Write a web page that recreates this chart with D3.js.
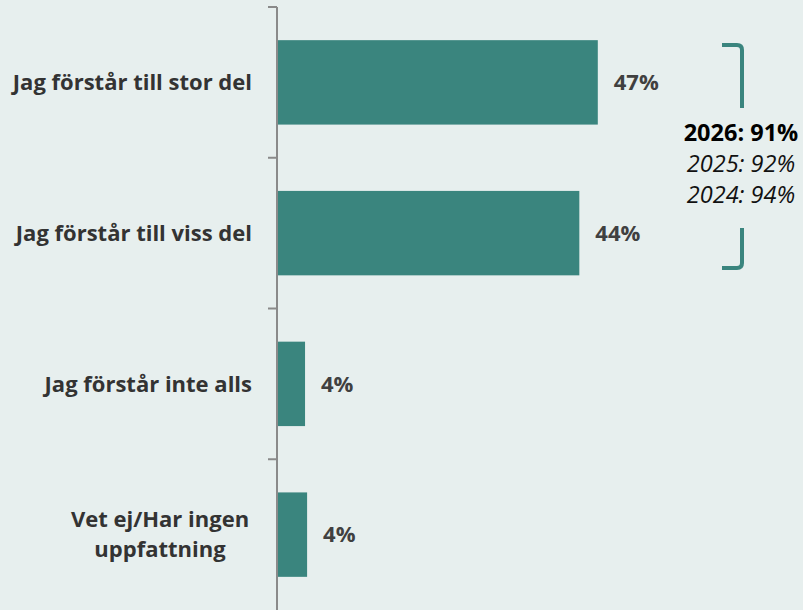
<!DOCTYPE html>
<html><head><meta charset="utf-8">
<script src="https://cdn.jsdelivr.net/npm/d3@7"></script>
<style>
html,body{margin:0;padding:0;background:#e7efee;}
svg{display:block;}
text{font-family:"Open Sans",Lato,sans-serif;}
</style></head>
<body>
<svg id="chart" width="803" height="610"></svg>
<script>
const categories = ["Jag förstår till stor del","Jag förstår till viss del","Jag förstår inte alls","Vet ej/Har ingen uppfattning"];
const categoryLines = [["Jag förstår till stor del"],["Jag förstår till viss del"],["Jag förstår inte alls"],["Vet ej/Har ingen","uppfattning"]];
const values = [46.9, 44.2, 4.1, 4.4];
const valueLabels = ["47%","44%","4%","4%"];
const summaryLines = ["2026: 91%","2025: 92%","2024: 94%"];

const svg = d3.select("#chart");
const W = 803, H = 610;
const x0 = 277;
const x = d3.scaleLinear().domain([0, 100]).range([x0, x0 + 684]);
const y = d3.scaleBand().domain(categories).range([7, 610]).paddingInner(0.44).paddingOuter(0.22);

svg.append("rect").attr("width", W).attr("height", H).attr("fill", "#e7efee");

svg.selectAll("rect.bar").data(values).enter().append("rect")
  .attr("class","bar")
  .attr("x", x(0))
  .attr("y", (d,i) => y(categories[i]))
  .attr("width", d => x(d) - x(0))
  .attr("height", y.bandwidth())
  .attr("fill", "#3a857e");

const bounds = [7, ...categories.map((c,i)=> i<categories.length-1 ? (y(categories[i]) + y.bandwidth() + y(categories[i+1]))/2 : 610)];
const axisG = svg.append("g");
axisG.append("line").attr("x1", x0).attr("x2", x0).attr("y1", 7).attr("y2", 610)
  .attr("stroke", "#8a8a8a").attr("stroke-width", 2);
axisG.selectAll("line.tick").data(bounds.slice(0,4)).enter().append("line")
  .attr("class","tick")
  .attr("x1", x0 - 9).attr("x2", x0).attr("y1", d=>d).attr("y2", d=>d)
  .attr("stroke", "#8a8a8a").attr("stroke-width", 2);

const fs = 22;
categories.forEach((c,i) => {
  const lines = categoryLines[i];
  const cy = y(c) + y.bandwidth()/2;
  const lh = 30;
  const t = svg.append("text").attr("text-anchor", lines.length>1 ? "middle" : "end")
    .attr("font-size", fs).attr("font-weight", 700).attr("fill", "#333333");
  lines.forEach((l,j) => {
    t.append("tspan")
      .attr("x", lines.length>1 ? 160 : 252)
      .attr("y", cy + (j - (lines.length-1)/2)*lh)
      .attr("dy", "0.35em")
      .text(l);
  });
});

svg.selectAll("text.val").data(values).enter().append("text")
  .attr("class","val")
  .attr("x", d => x(d) + 16)
  .attr("y", (d,i) => y(categories[i]) + y.bandwidth()/2)
  .attr("dy","0.35em")
  .attr("font-size", fs).attr("font-weight", 700).attr("fill", "#404040")
  .text((d,i) => valueLabels[i]);

const bx = 742, bTop = 45, bBot = 268;
svg.append("path")
  .attr("d", `M${bx-20},${bTop} L${bx-5},${bTop} Q${bx},${bTop} ${bx},${bTop+5} L${bx},108`)
  .attr("fill","none").attr("stroke","#3a857e").attr("stroke-width",4);
svg.append("path")
  .attr("d", `M${bx},228 L${bx},${bBot-5} Q${bx},${bBot} ${bx-5},${bBot} L${bx-20},${bBot}`)
  .attr("fill","none").attr("stroke","#3a857e").attr("stroke-width",4);

summaryLines.forEach((s,i) => {
  svg.append("text")
    .attr("x", 741).attr("y", 133 + i*31).attr("dy","0.35em")
    .attr("text-anchor","middle")
    .attr("font-size", 23.5)
    .attr("font-weight", i===0 ? 700 : 400)
    .attr("font-style", i===0 ? "normal" : "italic")
    .attr("fill", i===0 ? "#000" : "#111")
    .text(s);
});
</script>
</body></html>
